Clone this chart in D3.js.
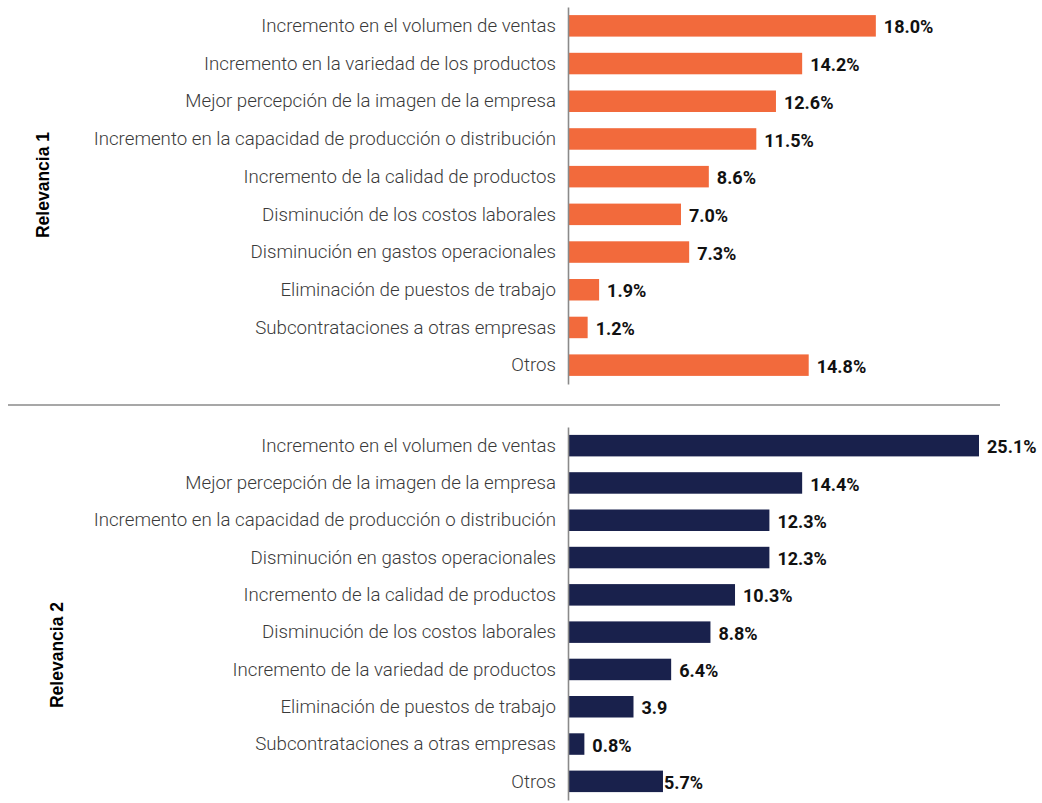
<!DOCTYPE html>
<html>
<head>
<meta charset="utf-8">
<script src="https://cdn.jsdelivr.net/npm/d3@7"></script>
<style>
  body { margin: 0; background: #fff; }
  #chart text { font-family: Roboto, "Noto Sans", sans-serif; }
</style>
</head>
<body>
<div id="chart"></div>
<script>
// Relevancia 1
var cats1 = [
  "Incremento en el volumen de ventas",
  "Incremento en la variedad de los productos",
  "Mejor percepción de la imagen de la empresa",
  "Incremento en la capacidad de producción o distribución",
  "Incremento de la calidad de productos",
  "Disminución de los costos laborales",
  "Disminución en gastos operacionales",
  "Eliminación de puestos de trabajo",
  "Subcontrataciones a otras empresas",
  "Otros"
];
var values1 = [18.8, 14.3, 12.7, 11.5, 8.6, 6.9, 7.4, 1.9, 1.2, 14.7];
var labels1 = ["18.0%", "14.2%", "12.6%", "11.5%", "8.6%", "7.0%", "7.3%", "1.9%", "1.2%", "14.8%"];

// Relevancia 2
var cats2 = [
  "Incremento en el volumen de ventas",
  "Mejor percepción de la imagen de la empresa",
  "Incremento en la capacidad de producción o distribución",
  "Disminución en gastos operacionales",
  "Incremento de la calidad de productos",
  "Disminución de los costos laborales",
  "Incremento de la variedad de productos",
  "Eliminación de puestos de trabajo",
  "Subcontrataciones a otras empresas",
  "Otros"
];
var values2 = [25.1, 14.3, 12.3, 12.3, 10.2, 8.7, 6.3, 4.0, 1.0, 5.8];
var labels2 = ["25.1%", "14.4%", "12.3%", "12.3%", "10.3%", "8.8%", "6.4%", "3.9", "0.8%", "5.7%"];

var width = 1042, height = 803;

var svg = d3.select("#chart").append("svg")
  .attr("width", width)
  .attr("height", height);

svg.append("rect").attr("width", width).attr("height", height).attr("fill", "#fff");

// same scale for both panels
var x = d3.scaleLinear().domain([0, 25.1]).range([568, 979]);

function panel(cats, values, labels, y0, y1, color, title, titleX, titleY) {
  var y = d3.scaleBand().domain(cats).range([y0, y1]).padding(0);
  var barH = 21.5;
  var g = svg.append("g");

  g.selectAll(".bar")
    .data(values)
    .enter().append("rect")
    .attr("class", "bar")
    .attr("x", x(0))
    .attr("y", function(d, i) { return y(cats[i]) + y.bandwidth() / 2 - barH / 2; })
    .attr("width", function(d) { return x(d) - x(0); })
    .attr("height", barH)
    .attr("fill", color);

  g.selectAll(".val")
    .data(values)
    .enter().append("text")
    .attr("class", "val")
    .attr("x", function(d, i) { return x(d) + (labels[i] == "5.7%" ? 1 : 8); })
    .attr("y", function(d, i) { return y(cats[i]) + y.bandwidth() / 2; })
    .attr("dy", "0.42em")
    .style("font-size", "18px")
    .style("font-weight", 700)
    .attr("fill", "#111")
    .text(function(d, i) { return labels[i]; });

  var axis = g.append("g")
    .attr("transform", "translate(" + x(0) + ",0)")
    .call(d3.axisLeft(y).tickSize(0).tickSizeOuter(0).tickPadding(12));
  axis.select(".domain").attr("stroke", "#8a8a8a").attr("stroke-width", 1.6);
  axis.selectAll(".tick text")
    .style("font-size", "18.7px")
    .style("font-weight", 300)
    .attr("fill", "#3a3a3a")
    .attr("dy", "0.33em");

  g.append("text")
    .attr("transform", "translate(" + titleX + "," + titleY + ") rotate(-90)")
    .attr("text-anchor", "middle")
    .style("font-family", "'Liberation Sans', Arial, sans-serif")
    .style("font-size", "17.5px")
    .style("font-weight", 700)
    .attr("fill", "#000")
    .text(title);
}

panel(cats1, values1, labels1, 7, 384, "#f26a3c", "Relevancia 1", 49, 185);
panel(cats2, values2, labels2, 427, 800, "#19214c", "Relevancia 2", 63, 655);

// separator
svg.append("line")
  .attr("x1", 8).attr("x2", 1000)
  .attr("y1", 405).attr("y2", 405)
  .attr("stroke", "#8a8a8a")
  .attr("stroke-width", 1.6);
</script>
</body>
</html>
